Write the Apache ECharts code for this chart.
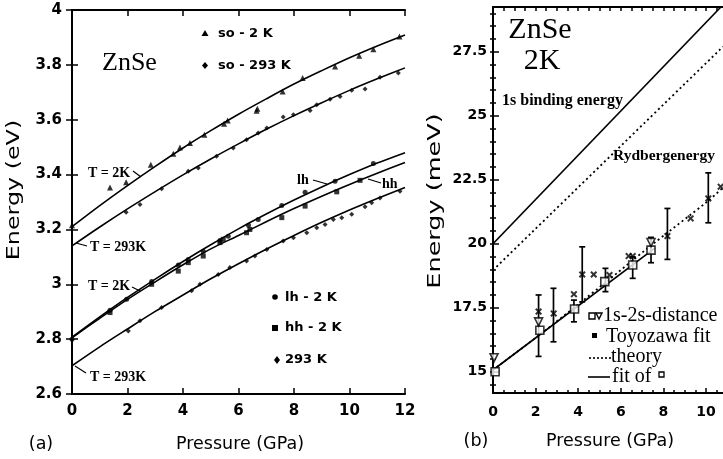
<!DOCTYPE html>
<html><head><meta charset="utf-8">
<script src="https://cdn.jsdelivr.net/npm/echarts@6/dist/echarts.min.js"></script>
<style>html,body{margin:0;padding:0;background:#fff}#c{width:723px;height:459px}</style>
</head><body><div id="c"></div>
<script>
// ---------- panel (a) data ----------
const fitP = [0,1,2,3,4,5,6,7,8,9,10,11,12];
const so2KFit  = [3.210,3.287,3.360,3.430,3.497,3.560,3.620,3.676,3.730,3.779,3.826,3.869,3.909];
const so293Fit = [3.140,3.209,3.275,3.338,3.399,3.457,3.512,3.565,3.615,3.662,3.707,3.749,3.789];
const lhFit    = [2.807,2.881,2.952,3.019,3.083,3.144,3.202,3.256,3.307,3.355,3.400,3.442,3.480];
const hhFit    = [2.805,2.876,2.945,3.009,3.071,3.129,3.178,3.228,3.276,3.321,3.364,3.405,3.444];
const gap293Fit= [2.703,2.772,2.837,2.901,2.961,3.020,3.075,3.128,3.178,3.226,3.271,3.313,3.353];

const so2KPts = [[0,3.215],[1.37,3.353],[1.95,3.372],[2.84,3.436],[3.65,3.476],[3.89,3.499],[4.25,3.515],[4.77,3.545],
  [5.48,3.585],[5.61,3.597],[6.65,3.633],[6.68,3.64],[7.59,3.703],[8.31,3.752],[9.48,3.794],[10.35,3.833],[10.86,3.857],[11.8,3.903]];
const so293Pts = [[1.95,3.263],[2.45,3.291],[3.23,3.348],[4.19,3.412],[4.55,3.424],[5.21,3.467],[5.81,3.497],[6.29,3.527],
  [6.71,3.552],[7.02,3.570],[7.61,3.610],[7.98,3.618],[8.58,3.634],[8.82,3.655],[9.30,3.675],[9.66,3.685],[10.08,3.707],
  [10.56,3.712],[11.10,3.755],[11.76,3.770]];
const lhPts = [[0,2.80],[1.37,2.905],[1.97,2.945],[2.87,3.01],[3.83,3.07],[4.19,3.09],[4.73,3.12],[5.33,3.16],[5.63,3.175],
  [6.36,3.215],[6.71,3.236],[7.56,3.287],[8.40,3.336],[9.48,3.376],[10.86,3.44]];
const hhPts = [[1.37,2.897],[2.87,3.0],[3.83,3.048],[4.19,3.079],[4.73,3.103],[5.33,3.152],[5.45,3.164],[6.29,3.188],
  [6.41,3.2],[7.56,3.243],[8.40,3.285],[9.54,3.337],[10.38,3.379]];
const gap293Pts = [[2.03,2.83],[2.45,2.867],[3.23,2.915],[4.31,2.976],[4.61,3.0],[5.27,3.036],[5.69,3.061],[6.29,3.085],
  [6.59,3.103],[7.02,3.127],[7.61,3.158],[7.98,3.170],[8.46,3.188],[8.82,3.206],[9.12,3.218],[9.42,3.236],[9.72,3.243],
  [10.08,3.255],[10.56,3.283],[10.80,3.297],[11.10,3.315],[11.82,3.339]];
const aTicksX = [0,2,4,6,8,10,12];
const aTicksY = [2.6,2.8,3,3.2,3.4,3.6,3.8,4];

// ---------- panel (b) data ----------
const bindingLine = [[0,20.0],[10.7,29.25]];
const rydbergLine = [[0,18.97],[10.8,27.7]];
const theoryLine  = [[0,15.07],[2.2,16.45],[5.3,18.5],[7.34,19.88],[10.14,21.7],[10.8,22.2]];
const fitSquares  = [[0,15.07],[7.6,19.83]];
const squarePts   = [[0.1,15.0],[2.2,16.62],[3.83,17.45],[5.25,18.52],[6.56,19.17],[7.42,19.75]];
const trianglePts = [[0.05,15.55],[2.14,16.95],[7.42,20.05]];
const toyozawaPts = [[2.14,17.35],[2.85,17.28],[3.8,18.03],[4.19,18.8],[4.73,18.8],[5.47,18.78],[6.37,19.52],[6.56,19.52],
  [8.19,20.3],[9.28,20.99],[10.11,21.77],[10.69,22.23]];
const errorBars   = [[2.14,15.6,18.0],[2.84,16.17,18.26],[3.8,16.95,17.8],[4.19,17.73,19.88],[5.28,18.13,19.04],
  [6.56,18.65,19.49],[7.42,19.26,20.25],[8.19,19.39,21.38],[10.11,20.82,22.77]];
const bTicksX = [0,2,4,6,8,10];
const bTicksY = [15,17.5,20,22.5,25,27.5];
const bMinorX = [0,0.5,1,1.5,2,2.5,3,3.5,4,4.5,5,5.5,6,6.5,7,7.5,8,8.5,9,9.5,10,10.5];
const bMinorY = [14.5,15,15.5,16,16.5,17,17.5,18,18.5,19,19.5,20,20.5,21,21.5,22,22.5,23,23.5,24,24.5,25,25.5,26,26.5,27,27.5,28,28.5,29];

const zip = (xs, ys) => xs.map((x, i) => [x, ys[i]]);
const K = '#000';
const tickFontA = {fontFamily:'DejaVu Sans', fontWeight:'bold', fontSize:15, color:K};
const tickFontB = {fontFamily:'DejaVu Sans', fontWeight:'bold', fontSize:14, color:K};
const lineAx = {show:true, lineStyle:{color:K, width:2}};

const chart = echarts.init(document.getElementById('c'), null, {renderer:'canvas'});

const xAxes = [
  {gridIndex:0, type:'value', min:0, max:12, position:'bottom', axisLine:lineAx,
   axisTick:{inside:true, length:6, lineStyle:{color:K,width:1.5}, customValues:aTicksX},
   axisLabel:Object.assign({margin:10, customValues:aTicksX}, tickFontA), splitLine:{show:false}},
  {gridIndex:0, type:'value', min:0, max:12, position:'top', axisLine:lineAx,
   axisTick:{inside:true, length:6, lineStyle:{color:K,width:1.5}, customValues:aTicksX},
   axisLabel:{show:false}, splitLine:{show:false}},
  {gridIndex:1, type:'value', min:0, max:10.8, position:'bottom', axisLine:lineAx,
   axisTick:{inside:true, length:5, lineStyle:{color:K,width:1.5}, customValues:bTicksX},
   axisLabel:Object.assign({margin:12, customValues:bTicksX}, tickFontB), splitLine:{show:false}},
  {gridIndex:1, type:'value', min:0, max:10.8, position:'bottom', axisLine:{show:false},
   axisTick:{inside:true, length:3, lineStyle:{color:K,width:1.5}, customValues:bMinorX},
   axisLabel:{show:false}, splitLine:{show:false}},
  {gridIndex:1, type:'value', min:0, max:10.8, position:'top', axisLine:lineAx,
   axisTick:{inside:true, length:4, lineStyle:{color:K,width:1.5}, customValues:bMinorX},
   axisLabel:{show:false}, splitLine:{show:false}}
];
const yAxes = [
  {gridIndex:0, type:'value', min:2.6, max:4, position:'left', axisLine:lineAx,
   axisTick:{inside:true, length:6, lineStyle:{color:K,width:1.5}, customValues:aTicksY},
   axisLabel:Object.assign({margin:10, customValues:aTicksY}, tickFontA), splitLine:{show:false}},
  {gridIndex:0, type:'value', min:2.6, max:4, position:'right', axisLine:lineAx,
   axisTick:{inside:true, length:6, lineStyle:{color:K,width:1.5}, customValues:aTicksY},
   axisLabel:{show:false}, splitLine:{show:false}},
  {gridIndex:1, type:'value', min:14.17, max:29.25, position:'left', axisLine:lineAx,
   axisTick:{inside:true, length:6, lineStyle:{color:K,width:1.5}, customValues:bTicksY},
   axisLabel:Object.assign({margin:6, customValues:bTicksY}, tickFontB), splitLine:{show:false}},
  {gridIndex:1, type:'value', min:14.17, max:29.25, position:'left', axisLine:{show:false},
   axisTick:{inside:true, length:3, lineStyle:{color:K,width:1.5}, customValues:bMinorY},
   axisLabel:{show:false}, splitLine:{show:false}},
  {gridIndex:1, type:'value', min:14.17, max:29.25, position:'right', axisLine:lineAx,
   axisTick:{inside:true, length:3, lineStyle:{color:K,width:1.5}, customValues:bMinorY},
   axisLabel:{show:false}, splitLine:{show:false}}
];

function fitLine(data, xi, yi, style) {
  return {type:'line', xAxisIndex:xi, yAxisIndex:yi, data:data, smooth:0.3, symbol:'none', silent:true,
    lineStyle:Object.assign({color:K, width:1.6}, style||{}), z:3, animation:false};
}
function pts(data, xi, yi, symbol, size, opts) {
  return Object.assign({type:'scatter', xAxisIndex:xi, yAxisIndex:yi, data:data, symbol:symbol, symbolSize:size,
    itemStyle:{color:K}, z:4, animation:false}, opts||{});
}
const openStyle = {color:'#fff', borderColor:K, borderWidth:1.6};
const xPath = 'path://M0,2L2,0L5,3L8,0L10,2L7,5L10,8L8,10L5,7L2,10L0,8L3,5Z';

const series = [
  fitLine(zip(fitP, so2KFit), 0, 0),
  fitLine(zip(fitP, so293Fit), 0, 0),
  fitLine(zip(fitP, lhFit), 0, 0),
  fitLine(zip(fitP, hhFit), 0, 0),
  fitLine(zip(fitP, gap293Fit), 0, 0),
  pts(so2KPts, 0, 0, 'triangle', 6, {name:'so - 2 K'}),
  pts(so293Pts, 0, 0, 'diamond', 5, {name:'so - 293 K'}),
  pts(lhPts, 0, 0, 'circle', 5, {name:'lh - 2 K'}),
  pts(hhPts, 0, 0, 'rect', 5, {name:'hh - 2 K'}),
  pts(gap293Pts, 0, 0, 'diamond', 5, {name:'293 K'}),
  // panel b
  fitLine(bindingLine, 2, 2, {width:1.7}),
  fitLine(rydbergLine, 2, 2, {type:[2,3], width:1.8}),
  fitLine(theoryLine, 2, 2, {type:[2,3], width:1.8}),
  fitLine(fitSquares, 2, 2, {width:1.7}),
  {type:'custom', xAxisIndex:2, yAxisIndex:2, data:errorBars, z:4, animation:false,
   encode:{x:0, y:[1,2]},
   renderItem:function(params, api){
     const x = api.value(0);
     const a = api.coord([x, api.value(1)]);
     const b = api.coord([x, api.value(2)]);
     const st = {stroke:K, lineWidth:1.7};
     return {type:'group', children:[
       {type:'line', shape:{x1:a[0], y1:a[1], x2:b[0], y2:b[1]}, style:st},
       {type:'line', shape:{x1:a[0]-3, y1:a[1], x2:a[0]+3, y2:a[1]}, style:st},
       {type:'line', shape:{x1:b[0]-3, y1:b[1], x2:b[0]+3, y2:b[1]}, style:st}
     ]};
   }},
  pts(squarePts, 2, 2, 'rect', 8, {name:'1s-2s-distance', itemStyle:openStyle, z:5}),
  pts(trianglePts, 2, 2, 'triangle', 8, {symbolRotate:180, itemStyle:openStyle, z:5}),
  pts(toyozawaPts, 2, 2, xPath, 7, {name:'Toyozawa fit', z:6})
];

const serif = 'Liberation Serif';
function txt(x, y, s, font, align, extra) {
  return Object.assign({type:'text', x:x, y:y, silent:true, z:10,
    style:{text:s, font:font, fill:K, textAlign:align||'left', textVerticalAlign:'middle'}}, extra||{});
}
function seg(x1, y1, x2, y2, w, dash) {
  return {type:'line', silent:true, z:10, shape:{x1:x1,y1:y1,x2:x2,y2:y2},
    style:{stroke:K, lineWidth:w||1.2, lineDash:dash||null}};
}
const legFontA = 'bold 13px "DejaVu Sans"';
const annFont = 'bold 14px "' + serif + '"';
const graphics = [
  // panel a titles
  txt(15, 190, 'Energy (eV)', '17px "DejaVu Sans"', 'center', {rotation:Math.PI/2, scaleX:1.4}),
  txt(240, 444, 'Pressure (GPa)', '17.5px "DejaVu Sans"', 'center'),
  txt(41, 444, '(a)', '17.5px "DejaVu Sans"', 'center'),
  txt(102, 63, 'ZnSe', '26px "' + serif + '"', 'left'),
  // legend a
  {type:'polygon', silent:true, shape:{points:[[205,30],[208.5,36],[201.5,36]]}, style:{fill:K}},
  txt(218, 34, 'so - 2 K', legFontA),
  {type:'polygon', silent:true, shape:{points:[[205,62],[208,65.5],[205,69],[202,65.5]]}, style:{fill:K}},
  txt(218, 66, 'so - 293 K', legFontA),
  {type:'circle', silent:true, shape:{cx:275, cy:297, r:2.8}, style:{fill:K}},
  txt(285, 298, 'lh - 2 K', legFontA),
  {type:'rect', silent:true, shape:{x:272, y:325, width:6, height:6}, style:{fill:K}},
  txt(285, 328, 'hh - 2 K', legFontA),
  {type:'polygon', silent:true, shape:{points:[[277,356],[280,360],[277,364],[274,360]]}, style:{fill:K}},
  txt(285, 360, '293 K', legFontA),
  // annotations a
  txt(88, 173, 'T = 2K', annFont), seg(133, 171, 141, 177),
  txt(90, 247, 'T = 293K', annFont), seg(76, 243, 87, 246),
  txt(88, 286, 'T = 2K', annFont), seg(132, 287, 140, 291),
  txt(90, 377, 'T = 293K', annFont), seg(75, 366, 86, 373),
  txt(297, 180, 'lh', annFont), seg(313, 180, 327, 184),
  txt(382, 184, 'hh', annFont), seg(368, 179, 381, 183),
  // panel b titles
  txt(436, 201, 'Energy (meV)', '17px "DejaVu Sans"', 'center', {rotation:Math.PI/2, scaleX:1.5}),
  txt(610, 441, 'Pressure (GPa)', '17.5px "DejaVu Sans"', 'center'),
  txt(476, 441, '(b)', '17.5px "DejaVu Sans"', 'center'),
  txt(540, 30, 'ZnSe', '30px "' + serif + '"', 'center'),
  txt(542, 61, '2K', '30px "' + serif + '"', 'center'),
  txt(502, 101, '1s binding energy', 'bold 16px "' + serif + '"', 'left'),
  txt(613, 156, 'Rydbergenergy', 'bold 15.5px "' + serif + '"', 'left'),
  // legend b
  {type:'rect', silent:true, shape:{x:589, y:313, width:6, height:6}, style:{fill:'#fff', stroke:K, lineWidth:1.4}},
  {type:'polygon', silent:true, shape:{points:[[596,313],[602,313],[599,319]]}, style:{fill:'#fff', stroke:K, lineWidth:1.4}},
  txt(603, 316, '1s-2s-distance', '20px "' + serif + '"'),
  {type:'rect', silent:true, shape:{x:592, y:333, width:5, height:5}, style:{fill:K}},
  txt(606, 337, 'Toyozawa fit', '20px "' + serif + '"'),
  seg(589, 358, 611, 358, 1.6, [2,2]),
  txt(611, 357, 'theory', '20px "' + serif + '"'),
  seg(588, 377, 610, 377, 1.6),
  txt(612, 377, 'fit of', '20px "' + serif + '"'),
  {type:'rect', silent:true, shape:{x:659, y:372, width:5, height:5}, style:{fill:'#fff', stroke:K, lineWidth:1.3}}
];

chart.setOption({
  animation:false,
  backgroundColor:'#fff',
  grid:[
    {left:72, top:10, width:333, height:384, containLabel:false},
    {left:493, top:7, width:231, height:386, containLabel:false}
  ],
  xAxis:xAxes, yAxis:yAxes, series:series, graphic:graphics
});
</script></body></html>
